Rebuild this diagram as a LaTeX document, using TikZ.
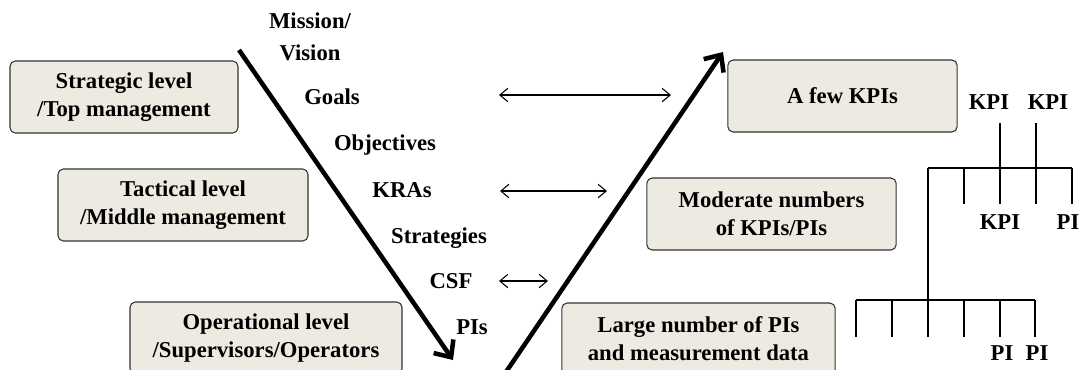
\documentclass[tikz,border=0pt]{standalone}
\usepackage{fontspec}
\setmainfont{Liberation Serif}
\usetikzlibrary{arrows.meta}
\definecolor{boxfill}{HTML}{EDEBE1}
\definecolor{boxline}{HTML}{333333}
\tikzset{
  levelbox/.style={draw=boxline, fill=boxfill, line width=0.8pt, rounded corners=4pt, align=center, minimum height=54pt, inner sep=2pt},
  tag/.style={align=center, text depth=0pt, inner sep=0pt},
  bigarrow/.style={line width=3.4pt, -{Straight Barb[length=10pt,width=18pt]}},
  link/.style={line width=0.8pt, {Straight Barb[length=6pt,width=10pt]}-{Straight Barb[length=6pt,width=10pt]}},
  tree/.style={line width=0.9pt}
}

\begin{document}
\begin{tikzpicture}[x=0.75pt, y=-0.75pt, font=\bfseries\fontsize{17}{21}\selectfont]
\useasboundingbox (0,0) rectangle (1082,369);

% Level boxes (left)
\node[levelbox, minimum width=171pt] (strat) at (124,97) {Strategic level\\/Top management};
\node[levelbox, minimum width=187.5pt] (tact) at (183,205) {Tactical level\\/Middle management};
\node[levelbox, minimum width=204pt] (oper) at (266,338) {Operational level\\/Supervisors/Operators};

% KPI boxes (right)
\node[levelbox, minimum width=172pt] (few) at (842.5,96) {A few KPIs};
\node[levelbox, minimum width=187pt] (moder) at (771.5,214) {Moderate numbers\\of KPIs/PIs};
\node[levelbox, minimum width=205pt] (large) at (698.5,339) {Large number of PIs\\and measurement data};

% Steps down the V
\node[align=center, inner sep=0pt] (mission) at (310,37) {Mission/\\[3pt]Vision};
\foreach \name/\x/\y/\label in {goals/332/97/Goals, objec/385/143/Objectives, kras/402/190/KRAs,
    strats/439/236/Strategies, csf/451/281/CSF, pis/472/327/PIs} {
    \node[tag] (\name) at (\x,\y) {\label};
}

% Main arrows
\coordinate (dtop) at (239,50);
\coordinate (dtip) at (453,360);
\coordinate (ubot) at (506,372);
\coordinate (utip) at (723,52);
\draw[bigarrow] (dtop) -- (dtip);
\draw[bigarrow] (ubot) -- (utip);

% Links between levels
\foreach \y/\xa/\xb in {95/499/671, 191/500/607, 281/499/548} {
    \coordinate (la) at (\xa,\y);
    \coordinate (lb) at (\xb,\y);
    \draw[link] (la) -- (lb);
}

% KPI tree
\node[tag] (kpiA) at (989,102) {KPI};
\node[tag] (kpiB) at (1048,102) {KPI};
\node[tag] (kpiC) at (1000,222) {KPI};
\node[tag] (piA) at (1068,222) {PI};
\node[tag] (piB) at (1002,353) {PI};
\node[tag] (piC) at (1037,353) {PI};

\draw[tree] (928,168) -- (1072,168);   % upper bar
\draw[tree] (856,300) -- (1035,300);   % lower bar
\draw[tree] (928,168) -- (928,337);    % trunk
\foreach \x in {1000,1036} {
    \draw[tree] (\x,123) -- (\x,204);
}
\foreach \x in {964,1072} {
    \draw[tree] (\x,168) -- (\x,204);
}
\foreach \x in {856,892,964,1000,1035} {
    \draw[tree] (\x,300) -- (\x,337);
}

\end{tikzpicture}
\end{document}
